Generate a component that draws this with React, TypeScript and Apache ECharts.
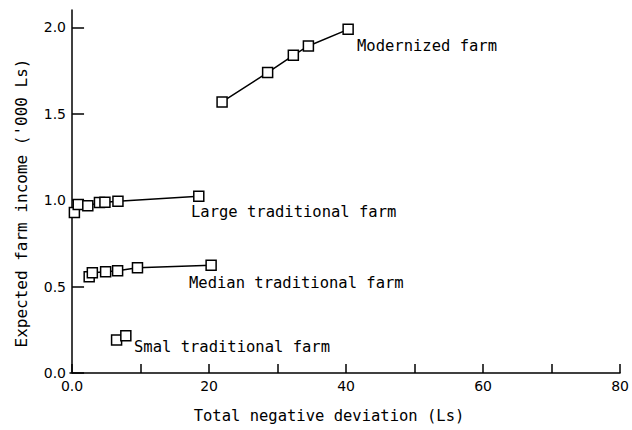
import React, { useEffect, useRef } from "react";
import * as echarts from "echarts";

// Data (x: total negative deviation in Ls, y: expected farm income in '000 Ls)
const modernizedX = [21.9, 28.55, 32.3, 34.5, 40.3];
const modernizedY = [1.568, 1.738, 1.838, 1.892, 1.988];
const largeX = [0.34, 0.9, 2.3, 4.0, 4.8, 6.7, 18.5];
const largeY = [0.929, 0.975, 0.967, 0.987, 0.988, 0.994, 1.023];
const medianX = [2.5, 2.96, 4.9, 6.65, 9.55, 20.3];
const medianY = [0.557, 0.58, 0.586, 0.591, 0.609, 0.624];
const smallX = [6.5, 7.85];
const smallY = [0.191, 0.216];

const seriesNames = [
  "Modernized farm",
  "Large traditional farm",
  "Median traditional farm",
  "Smal traditional farm",
];

const xTickValues = [0, 10, 20, 30, 40, 50, 60, 70, 80];
const xLabelValues = [0, 20, 40, 60, 80];
const yTickValues = [0, 0.5, 1.0, 1.5, 2.0];

const xTitle = "Total negative deviation (Ls)";
const yTitle = "Expected farm income ('000 Ls)";

const zip = (xs: number[], ys: number[]) => xs.map((x, i) => [x, ys[i]]);

export default function App() {
  const ref = useRef<HTMLDivElement>(null);
  useEffect(() => {
    if (!ref.current) return;
    document.body.style.margin = "0";
    document.body.style.overflow = "hidden";
    const chart = echarts.init(ref.current, null, { renderer: "svg" });
    const mono = "DejaVu Sans Mono";
    const sans = "DejaVu Sans";
    const mkSeries = (name: string, xs: number[], ys: number[], showLine: boolean) => ({
      name,
      type: "line",
      data: zip(xs, ys),
      symbol: "rect",
      symbolSize: 10,
      showSymbol: true,
      lineStyle: { color: "#000", width: 1.5, opacity: showLine ? 1 : 0 },
      itemStyle: { color: "#fff", borderColor: "#000", borderWidth: 1.5 },
      z: 3,
    });
    chart.setOption({
      animation: false,
      backgroundColor: "#fff",
      grid: { left: 70, right: 10, top: 10, bottom: 57 },
      xAxis: {
        type: "value",
        min: -0.3,
        max: 80,
        axisLine: { show: true, lineStyle: { color: "#000", width: 1.5 } },
        axisTick: {
          show: true,
          inside: true,
          length: 9,
          customValues: xTickValues,
          lineStyle: { color: "#000", width: 1.5 },
        },
        axisLabel: {
          customValues: xLabelValues,
          color: "#000",
          fontFamily: sans,
          fontSize: 14,
          margin: 6,
          hideOverlap: false,
          formatter: (v: number) => (v === 0 ? "0.0" : String(v)),
        },
        splitLine: { show: false },
      },
      yAxis: {
        type: "value",
        min: 0,
        max: 2.1,
        axisLine: { show: true, lineStyle: { color: "#000", width: 1.5 } },
        axisTick: {
          show: true,
          inside: true,
          length: 12,
          customValues: yTickValues,
          lineStyle: { color: "#000", width: 1.5 },
        },
        axisLabel: {
          customValues: yTickValues,
          color: "#000",
          fontFamily: sans,
          fontSize: 14,
          margin: 4,
          formatter: (v: number) => v.toFixed(1),
        },
        splitLine: { show: false },
      },
      series: [
        mkSeries(seriesNames[0], modernizedX, modernizedY, true),
        mkSeries(seriesNames[1], largeX, largeY, true),
        mkSeries(seriesNames[2], medianX, medianY, true),
        mkSeries(seriesNames[3], smallX, smallY, false),
      ],
      graphic: [
        { type: "text", left: 357, top: 38, style: { text: seriesNames[0], font: `15.5px '${mono}'`, fill: "#000" } },
        { type: "text", left: 191, top: 204, style: { text: seriesNames[1], font: `15.5px '${mono}'`, fill: "#000" } },
        { type: "text", left: 189, top: 275, style: { text: seriesNames[2], font: `15.5px '${mono}'`, fill: "#000" } },
        { type: "text", left: 134, top: 339, style: { text: seriesNames[3], font: `15.5px '${mono}'`, fill: "#000" } },
        {
          type: "text",
          x: 329,
          y: 416,
          style: { text: xTitle, font: `15.5px '${mono}'`, fill: "#000", align: "center", verticalAlign: "middle" },
        },
        {
          type: "text",
          x: 21,
          y: 203,
          rotation: Math.PI / 2,
          style: { text: yTitle, font: `16px '${mono}'`, fill: "#000", align: "center", verticalAlign: "middle" },
        },
      ],
    });
    return () => chart.dispose();
  }, []);
  return <div ref={ref} style={{ position: "absolute", left: 0, top: 0, width: 632, height: 430 }} />;
}
